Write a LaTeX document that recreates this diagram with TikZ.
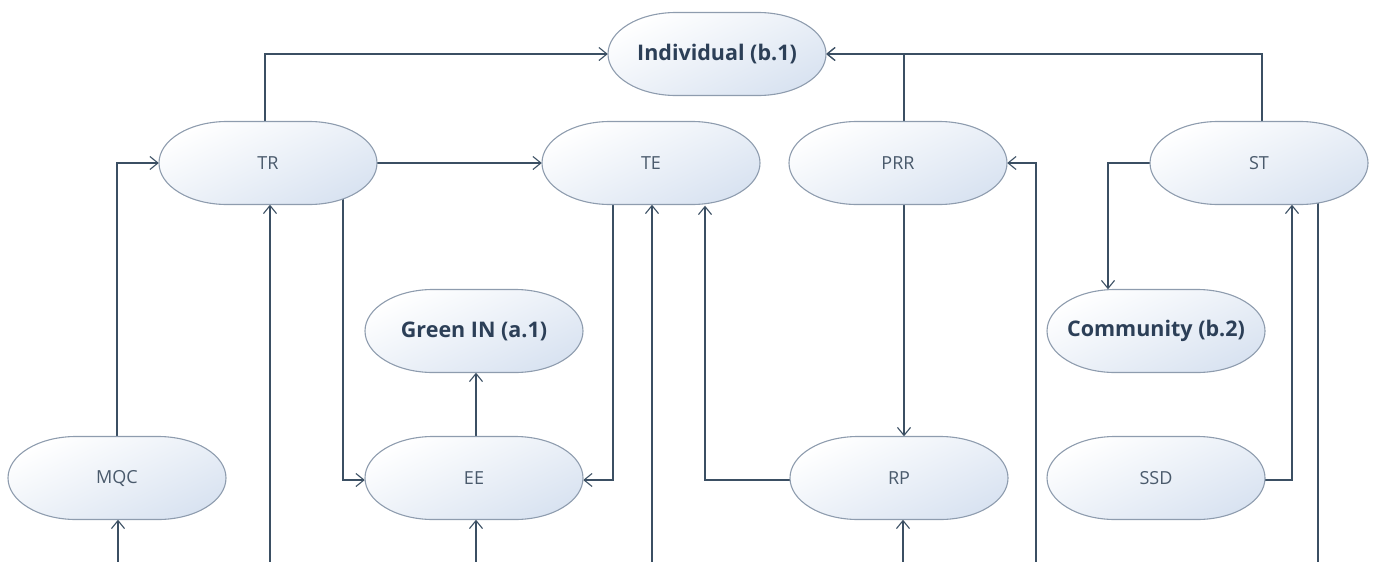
\documentclass[tikz,border=0pt]{standalone}
\usepackage{fontspec}
\setmainfont{Open Sans}
\usetikzlibrary{arrows.meta}
\pgfdeclarelayer{background}
\pgfsetlayers{background,main}
\definecolor{lineC}{HTML}{3B4F63}
\definecolor{bordC}{HTML}{8E9CAE}
\definecolor{fillA}{HTML}{FFFFFF}
\definecolor{fillB}{HTML}{D9E3F1}
\definecolor{txtR}{HTML}{4A5A6C}
\definecolor{txtB}{HTML}{2C3F57}
\tikzset{
  bubshape/.style={draw=bordC, line width=1.1pt, top color=fillA, bottom color=fillB, shading angle=25},
  bubtext/.style={rectangle, minimum width=218pt, minimum height=83pt, inner sep=0pt, text=txtR, font=\fontsize{18}{20}\selectfont},
  boldtext/.style={text=txtB, font=\fontsize{21.5}{24}\selectfont\bfseries},
  conn/.style={draw=lineC, line width=1.1pt, -{Straight Barb[length=8pt,width=13pt,line width=1.1pt]}},
  plain/.style={draw=lineC, line width=1.1pt}
}
\newcommand\bub[5][]{%
  \path[bubshape] (#3-41,#4-41.5) -- (#3+41,#4-41.5)
     arc[start angle=90,end angle=-90,x radius=68pt,y radius=41.5pt]
     -- (#3-41,#4+41.5)
     arc[start angle=270,end angle=90,x radius=68pt,y radius=41.5pt] -- cycle;
  \node[bubtext,#1] (#2) at (#3,#4) {#5};
}
\begin{document}
\begin{tikzpicture}[x=1pt,y=-1pt]
\useasboundingbox (0,0) rectangle (1376,562);
\bub[boldtext]{Ind}{717}{54}{Individual (b.1)}
\bub{TR}{268}{163}{TR}
\bub{TE}{651}{163}{TE}
\bub{PRR}{898}{163}{PRR}
\bub{ST}{1259}{163}{ST}
\bub[boldtext]{GIN}{474}{331}{Green IN (a.1)}
\bub[boldtext]{Com}{1156}{331}{Community (b.2)}
\bub{MQC}{117}{478}{MQC}
\bub{EE}{474}{478}{EE}
\bub{RP}{899}{478}{RP}
\bub{SSD}{1156}{478}{SSD}
\coordinate (b1) at (270,562);
\coordinate (b2) at (652,562);
\coordinate (b3) at (476,562);
\coordinate (b4) at (118,562);
\coordinate (b5) at (903,562);
\coordinate (b6) at (1036,562);
\coordinate (b7) at (1318,562);
\begin{pgfonlayer}{background}
\draw[conn] ([xshift=-3pt]TR.north) |- (Ind.west);
\draw[conn] ([xshift=6pt]PRR.north) |- (Ind.east);
\draw[conn] ([xshift=3pt]ST.north) |- (Ind.east);
\draw[conn] (MQC.north) |- (TR.west);
\draw[conn] (TR.east) -- (TE.west);
\draw[conn] (b1) -- (b1 |- TR.south);
\draw[conn] ([xshift=75pt]TR.center) |- ([yshift=-2pt]EE.west);
\draw[conn] ([xshift=-38pt]TE.center) |- ([yshift=-2pt]EE.east);
\draw[conn] (b2) -- (b2 |- TE.south);
\draw[conn] ([yshift=-2pt]RP.center) -| ([xshift=54pt,yshift=-1pt]TE.south);
\draw[conn] ([xshift=2pt]EE.north) -- ([xshift=2pt]GIN.south);
\draw[conn] (b3) -- (b3 |- EE.south);
\draw[conn] (b4) -- (b4 |- MQC.south);
\draw[conn] ([xshift=6pt]PRR.south) -- ([xshift=6pt]PRR.south |- RP.north);
\draw[conn] (b5) -- (b5 |- RP.south);
\draw[conn] (b6) |- (PRR.east);
\draw[conn] (ST.center) -| ([xshift=-48pt]Com.north);
\draw[conn] ([yshift=-2pt]SSD.center) -| ([xshift=33pt]ST.south);
\draw[plain] ([xshift=59pt]ST.center) -- (b7);
\end{pgfonlayer}
\end{tikzpicture}
\end{document}
